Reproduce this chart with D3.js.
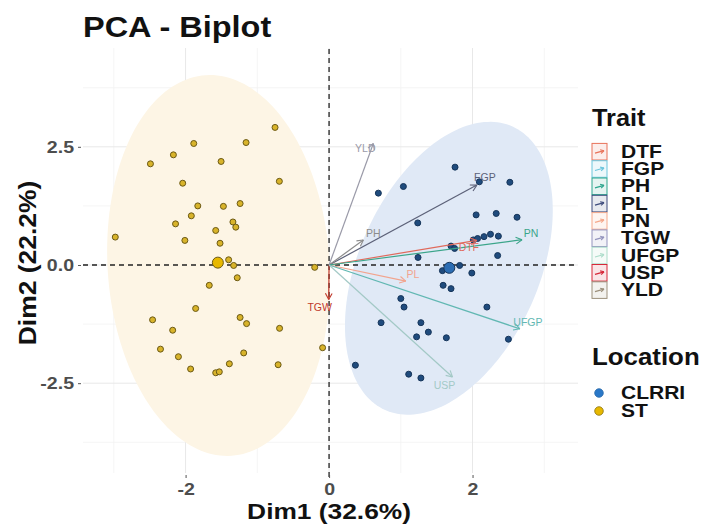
<!DOCTYPE html>
<html lang="en">
<head>
<meta charset="UTF-8">
<title>PCA - Biplot</title>
<script src="https://d3js.org/d3.v7.min.js"></script>
<style>
  body { margin: 0; background: #fff; }
  svg { font-family: "Liberation Sans", Arial, sans-serif; }
</style>
</head>
<body>
<svg width="705" height="526"></svg>
<script>
// individuals on Dim1 / Dim2
const clrriPoints = [
  [1.756, 2.07], [2.095, 1.76], [2.52, 1.75], [0.687, 1.52], [1.036, 1.66],
  [1.236, 0.89], [2.05, 1.06], [2.33, 1.09], [2.62, 1.01], [2.16, 0.60],
  [2.25, 0.65], [2.36, 0.61], [2.01, 0.53], [2.07, 0.56], [1.70, 0.40],
  [1.75, 0.35], [1.24, 0.16], [2.35, 0.20], [1.58, -0.12], [1.82, -0.01],
  [1.99, -0.17], [1.59, -0.43], [1.70, -0.50], [1.00, -0.71], [1.045, -0.89],
  [2.20, -0.89], [0.725, -1.22], [1.28, -1.22], [1.384, -1.42], [1.22, -1.52],
  [1.635, -1.54], [2.50, -1.57], [0.367, -2.12], [1.11, -2.31], [1.28, -2.39]
];
const stPoints = [
  [-0.753, 2.91], [-1.886, 2.57], [-1.157, 2.59], [-2.17, 2.33], [-2.49, 2.14],
  [-1.505, 2.19], [-2.04, 1.73], [-0.693, 1.77], [-1.83, 1.25], [-1.473, 1.24],
  [-1.24, 1.30], [-1.92, 1.04], [-2.14, 0.87], [-1.34, 0.91], [-1.30, 0.80],
  [-1.58, 0.73], [-2.98, 0.59], [-2.01, 0.52], [-1.52, 0.46], [-1.40, 0.11],
  [-1.33, -0.01], [-1.28, -0.27], [-1.67, -0.43], [-0.20, -0.05], [-1.86, -0.92],
  [-1.24, -1.11], [-1.15, -1.24], [-2.46, -1.16], [-2.18, -1.38], [-0.69, -1.34],
  [-2.35, -1.78], [-2.10, -1.94], [-1.19, -1.86], [-0.09, -1.75], [-1.93, -2.20],
  [-1.39, -2.09], [-1.58, -2.28], [-1.53, -2.26], [-0.71, -2.11]
];
const locations = ["CLRRI", "ST"];
const groupMeans = [[1.676, -0.06], [-1.55, 0.05]];
// ellipse: centre and two half-axis vectors, in Dim units
const ellipseCentre = [[1.67, -0.07], [-1.54, -0.01]];
const ellipseAxisU = [[0.888, 2.998], [-0.181, 4.025]];
const ellipseAxisV = [[1.144, -0.780], [1.543, 0.160]];

// variable arrows
const traits = ["DTF", "FGP", "PH", "PL", "PN", "TGW", "UFGP", "USP", "YLD"];
const traitDim1 = [2.06, 2.06, 0.478, 1.07, 2.69, -0.005, 2.66, 1.72, 0.617];
const traitDim2 = [0.52, 1.69, 0.53, -0.34, 0.535, -0.73, -1.35, -2.37, 2.57];

const xTicks = [-2, 0, 2];
const yTicks = [-2.5, 0, 2.5];
const xMinor = [-3, -1, 1, 3];
const yMinor = [-3.75, -1.25, 1.25, 3.75];

// colours
const arrowColor = {
  DTF: "#e06a5c", FGP: "#5c6178", PH: "#8c8c8c", PL: "#f2a48e", PN: "#3ba58a",
  TGW: "#c0392b", UFGP: "#62b8b3", USP: "#a3c9c6", YLD: "#9a9aa8"
};
const legendColor = {
  DTF: "#e8735a", FGP: "#6cc5dc", PH: "#2ca58d", PL: "#3d4b7c", PN: "#f5a98c",
  TGW: "#9394bd", UFGP: "#abdcc9", USP: "#d62839", YLD: "#9c907c"
};
const labelNudge = {
  DTF: [-8, 7], FGP: [8, -8], PH: [10, -7], PL: [7, -7], PN: [9, -7],
  TGW: [-9, 7], UFGP: [8, -7], USP: [-8, 8], YLD: [-8, 5]
};
const pointFill = ["#1f4b7d", "#d8b32a"];
const pointStroke = ["#16355a", "#6b5914"];
const meanFill = ["#2c6db3", "#e7b800"];
const ellipseFill = ["#e0e9f6", "#fdf5e5"];

const svg = d3.select("svg");

const x = d3.scaleLinear().domain([-3.43, 3.47]).range([83, 578]);
const y = d3.scaleLinear().domain([-4.40, 4.59]).range([473, 48]);

// stretch text a bit wider, glyphs in the picture are wide
function widen(sel, k) {
  sel.each(function() {
    const l = this.getComputedTextLength();
    this.setAttribute("textLength", l * k);
    this.setAttribute("lengthAdjust", "spacingAndGlyphs");
  });
}

// grid
const grid = svg.append("g");
grid.selectAll(".vmin").data(xMinor).join("line")
  .attr("x1", d => x(d)).attr("x2", d => x(d))
  .attr("y1", y.range()[0]).attr("y2", y.range()[1])
  .attr("stroke", "#f2f2f2").attr("stroke-width", 0.8);
grid.selectAll(".hmin").data(yMinor).join("line")
  .attr("y1", d => y(d)).attr("y2", d => y(d))
  .attr("x1", x.range()[0]).attr("x2", x.range()[1])
  .attr("stroke", "#f2f2f2").attr("stroke-width", 0.8);
grid.selectAll(".vmaj").data(xTicks).join("line")
  .attr("x1", d => x(d)).attr("x2", d => x(d))
  .attr("y1", y.range()[0]).attr("y2", y.range()[1])
  .attr("stroke", "#e8e8e8").attr("stroke-width", 1);
grid.selectAll(".hmaj").data(yTicks).join("line")
  .attr("y1", d => y(d)).attr("y2", d => y(d))
  .attr("x1", x.range()[0]).attr("x2", x.range()[1])
  .attr("stroke", "#e8e8e8").attr("stroke-width", 1);

// concentration ellipses
const ellipse = d3.line().curve(d3.curveLinearClosed);
locations.forEach((loc, i) => {
  const c = ellipseCentre[i], u = ellipseAxisU[i], v = ellipseAxisV[i];
  const pts = d3.range(0, 2 * Math.PI, Math.PI / 90).map(t => [
    x(c[0] + u[0] * Math.cos(t) + v[0] * Math.sin(t)),
    y(c[1] + u[1] * Math.cos(t) + v[1] * Math.sin(t))
  ]);
  svg.append("path").attr("d", ellipse(pts))
    .attr("fill", ellipseFill[i]);
});

// zero lines
svg.append("line")
  .attr("x1", x.range()[0]).attr("x2", x.range()[1])
  .attr("y1", y(0)).attr("y2", y(0))
  .attr("stroke", "#222").attr("stroke-width", 1.3).attr("stroke-dasharray", "5,4");
svg.append("line")
  .attr("x1", x(0)).attr("x2", x(0))
  .attr("y1", y.range()[0] + 4).attr("y2", y.range()[1])
  .attr("stroke", "#222").attr("stroke-width", 1.3).attr("stroke-dasharray", "5,4");

// individuals
[clrriPoints, stPoints].forEach((pts, i) => {
  svg.append("g").selectAll("circle").data(pts).join("circle")
    .attr("cx", d => x(d[0])).attr("cy", d => y(d[1]))
    .attr("r", 3)
    .attr("fill", pointFill[i]).attr("stroke", pointStroke[i]).attr("stroke-width", 1);
});
svg.append("g").selectAll("circle").data(groupMeans).join("circle")
  .attr("cx", d => x(d[0])).attr("cy", d => y(d[1]))
  .attr("r", 5.5)
  .attr("fill", (d, i) => meanFill[i]).attr("stroke", (d, i) => pointStroke[i]).attr("stroke-width", 1);

// arrows
function arrowHead(g, x2, y2, ang, color, len) {
  [-0.5, 0.5].forEach(a => {
    g.append("line")
      .attr("x1", x2).attr("y1", y2)
      .attr("x2", x2 - len * Math.cos(ang + a)).attr("y2", y2 - len * Math.sin(ang + a))
      .attr("stroke", color).attr("stroke-width", 1.1);
  });
}
const arrows = svg.append("g");
traits.forEach((t, i) => {
  const x1 = x(0), y1 = y(0), x2 = x(traitDim1[i]), y2 = y(traitDim2[i]);
  const ang = Math.atan2(y2 - y1, x2 - x1);
  arrows.append("line")
    .attr("x1", x1).attr("y1", y1).attr("x2", x2).attr("y2", y2)
    .attr("stroke", arrowColor[t]).attr("stroke-width", 1.2);
  arrowHead(arrows, x2, y2, ang, arrowColor[t], 7);
});
arrows.selectAll("text").data(traits).join("text")
  .attr("x", (t, i) => x(traitDim1[i]) + labelNudge[t][0])
  .attr("y", (t, i) => y(traitDim2[i]) + labelNudge[t][1])
  .attr("text-anchor", "middle").attr("dominant-baseline", "central")
  .attr("font-size", 10.5)
  .attr("fill", t => arrowColor[t])
  .text(t => t);

// axes
const xAxis = svg.append("g")
  .attr("transform", `translate(0,${y.range()[0] + 2})`)
  .call(d3.axisBottom(x).tickValues(xTicks).tickSize(3).tickPadding(3).tickFormat(d => String(d)));
const yAxis = svg.append("g")
  .attr("transform", `translate(${x.range()[0] - 2},0)`)
  .call(d3.axisLeft(y).tickValues(yTicks).tickSize(3).tickPadding(4).tickFormat(d => d.toFixed(1)));
[xAxis, yAxis].forEach(a => {
  a.select(".domain").remove();
  a.selectAll(".tick line").attr("stroke", "#555");
  a.selectAll(".tick text")
    .attr("font-size", 17).attr("font-weight", "bold").attr("fill", "#4d4d4d");
});
xAxis.selectAll(".tick text").attr("dy", "0.8em");
widen(xAxis.selectAll(".tick text"), 1.15);
widen(yAxis.selectAll(".tick text"), 1.15);

// titles
const title = svg.append("text")
  .attr("x", 83).attr("y", 37)
  .attr("font-size", 29).attr("font-weight", "bold").attr("fill", "#111")
  .text("PCA - Biplot");
widen(title, 1.12);

const xTitle = svg.append("text")
  .attr("x", x(0)).attr("y", 519)
  .attr("text-anchor", "middle")
  .attr("font-size", 22.5).attr("font-weight", "bold").attr("fill", "#111")
  .text("Dim1 (32.6%)");
widen(xTitle, 1.17);

const yTitle = svg.append("text")
  .attr("transform", `translate(36,${y(0) - 2}) rotate(-90)`)
  .attr("text-anchor", "middle")
  .attr("font-size", 23).attr("font-weight", "bold").attr("fill", "#111")
  .text("Dim2 (22.2%)");
widen(yTitle, 1.15);

// legend: Trait
const leg = svg.append("g");
widen(leg.append("text").attr("x", 592).attr("y", 126)
  .attr("font-size", 23).attr("font-weight", "bold").attr("fill", "#111")
  .text("Trait"), 1.1);
traits.forEach((t, i) => {
  const cy = 151.7 + i * 17.3;
  const c = legendColor[t];
  leg.append("rect")
    .attr("x", 592).attr("y", cy - 8.3).attr("width", 15).attr("height", 16.6)
    .attr("fill", c).attr("fill-opacity", 0.12)
    .attr("stroke", c).attr("stroke-width", 1);
  leg.append("line")
    .attr("x1", 595).attr("y1", cy + 1.5).attr("x2", 604).attr("y2", cy - 1)
    .attr("stroke", c).attr("stroke-width", 1.2);
  arrowHead(leg, 604, cy - 1, Math.atan2(-2.5, 9), c, 4);
  widen(leg.append("text").attr("x", 621).attr("y", cy)
    .attr("dominant-baseline", "central")
    .attr("font-size", 17.5).attr("font-weight", "bold").attr("fill", "#111")
    .text(t), 1.2);
});

// legend: Location
widen(leg.append("text").attr("x", 592).attr("y", 365)
  .attr("font-size", 23.5).attr("font-weight", "bold").attr("fill", "#111")
  .text("Location"), 1.1);
locations.forEach((loc, i) => {
  const cy = 393 + i * 18;
  leg.append("circle")
    .attr("cx", 599).attr("cy", cy).attr("r", 4.3)
    .attr("fill", i === 0 ? "#2a78c8" : "#e7b800")
    .attr("stroke", i === 0 ? "#2a6aa8" : "#8a7412").attr("stroke-width", 0.8);
  widen(leg.append("text").attr("x", 621).attr("y", cy)
    .attr("dominant-baseline", "central")
    .attr("font-size", 17.5).attr("font-weight", "bold").attr("fill", "#111")
    .text(loc), 1.2);
});
</script>
</body>
</html>
